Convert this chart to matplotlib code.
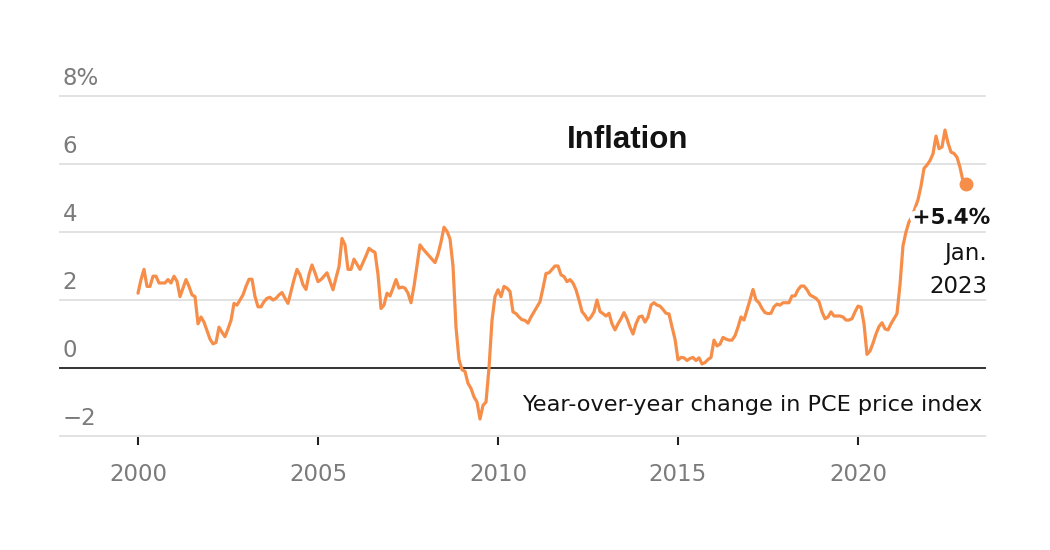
import matplotlib
matplotlib.use("Agg")
import matplotlib.pyplot as plt
import matplotlib.patheffects as pe
import numpy as np

# Monthly year-over-year change in PCE price index, Jan 2000 - Jan 2023
start_year = 2000
y2000 = [2.2, 2.6, 2.9, 2.4, 2.4, 2.7, 2.7, 2.5, 2.5, 2.5, 2.6, 2.5]
y2001 = [2.7, 2.55, 2.1, 2.35, 2.6, 2.4, 2.15, 2.1, 1.3, 1.5, 1.35, 1.1]
y2002 = [0.85, 0.71, 0.75, 1.2, 1.05, 0.92, 1.15, 1.4, 1.9, 1.85, 2.0, 2.15]
y2003 = [2.4, 2.61, 2.61, 2.1, 1.8, 1.8, 1.95, 2.05, 2.08, 2.0, 2.05, 2.15]
y2004 = [2.22, 2.05, 1.9, 2.25, 2.6, 2.9, 2.74, 2.45, 2.31, 2.75, 3.03, 2.8]
y2005 = [2.54, 2.6, 2.7, 2.8, 2.55, 2.3, 2.65, 2.98, 3.81, 3.62, 2.9, 2.9]
y2006 = [3.2, 3.05, 2.9, 3.1, 3.3, 3.52, 3.45, 3.4, 2.75, 1.75, 1.85, 2.2]
y2007 = [2.12, 2.35, 2.6, 2.35, 2.38, 2.35, 2.2, 1.92, 2.4, 3.0, 3.62, 3.5]
y2008 = [3.4, 3.3, 3.2, 3.1, 3.35, 3.7, 4.14, 4.02, 3.8, 3.0, 1.2, 0.25]
y2009 = [-0.05, -0.1, -0.45, -0.6, -0.85, -1.0, -1.5, -1.1, -1.0, 0.0, 1.4, 2.1]
y2010 = [2.3, 2.1, 2.4, 2.35, 2.25, 1.65, 1.6, 1.5, 1.42, 1.4, 1.32, 1.5]
y2011 = [1.65, 1.8, 1.95, 2.35, 2.78, 2.8, 2.9, 3.0, 3.0, 2.74, 2.69, 2.54]
y2012 = [2.6, 2.5, 2.3, 2.0, 1.66, 1.55, 1.41, 1.5, 1.65, 2.0, 1.66, 1.6]
y2013 = [1.53, 1.61, 1.3, 1.12, 1.3, 1.45, 1.63, 1.45, 1.2, 1.0, 1.3, 1.5]
y2014 = [1.53, 1.35, 1.5, 1.85, 1.92, 1.85, 1.82, 1.72, 1.61, 1.59, 1.21, 0.85]
y2015 = [0.24, 0.31, 0.3, 0.22, 0.28, 0.31, 0.22, 0.3, 0.12, 0.16, 0.25, 0.31]
y2016 = [0.82, 0.65, 0.7, 0.9, 0.85, 0.82, 0.82, 0.95, 1.2, 1.5, 1.41, 1.7]
y2017 = [2.0, 2.31, 2.0, 1.92, 1.75, 1.63, 1.6, 1.61, 1.8, 1.88, 1.85, 1.92]
y2018 = [1.92, 1.92, 2.12, 2.12, 2.3, 2.41, 2.41, 2.3, 2.15, 2.1, 2.05, 1.95]
y2019 = [1.65, 1.45, 1.5, 1.65, 1.53, 1.53, 1.53, 1.5, 1.41, 1.41, 1.45, 1.65]
y2020 = [1.82, 1.79, 1.3, 0.4, 0.5, 0.73, 1.0, 1.22, 1.33, 1.15, 1.12, 1.3]
y2021 = [1.45, 1.6, 2.45, 3.6, 4.0, 4.3, 4.45, 4.7, 4.95, 5.35, 5.87, 5.97]
y2022 = [6.1, 6.3, 6.82, 6.45, 6.5, 7.0, 6.62, 6.35, 6.31, 6.2, 5.9, 5.5]
y2023 = [5.4]

values = np.array(y2000 + y2001 + y2002 + y2003 + y2004 + y2005 + y2006 + y2007
                  + y2008 + y2009 + y2010 + y2011 + y2012 + y2013 + y2014 + y2015
                  + y2016 + y2017 + y2018 + y2019 + y2020 + y2021 + y2022 + y2023)
dates = start_year + np.arange(len(values)) / 12.0

x_ticks = [2000, 2005, 2010, 2015, 2020]
y_ticks = [-2, 0, 2, 4, 6, 8]
y_tick_labels = ["\u22122", "0", "2", "4", "6", "8%"]

title = "Inflation"
subtitle = "Year-over-year change in PCE price index"
end_label = "+5.4%"
end_month = "Jan."
end_year = "2023"

line_color = "#f68e4a"
grid_color = "#e2e2e2"
label_gray = "#7b7b7b"
text_dark = "#121212"
FONT = ["DejaVu Sans"]

fig = plt.figure(figsize=(10.5, 5.5), dpi=100)
ax = fig.add_axes([60 / 1050, 114 / 550, 925 / 1050, 340 / 550])
ax.set_xlim(2000 - 78 / 36, 2000 + 847 / 36)
ax.set_ylim(-2, 8)

for s in ax.spines.values():
    s.set_visible(False)
ax.set_xticks([])
ax.set_yticks([])

for yv in y_ticks:
    if yv == 0:
        ax.axhline(0, color="#333333", lw=1.4, zorder=3, clip_on=False)
    else:
        ax.axhline(yv, color=grid_color, lw=1.4, zorder=1, clip_on=False)

# y labels above grid lines
for yv, lab in zip(y_ticks, y_tick_labels):
    ax.annotate(lab, xy=(0, yv), xycoords=("axes fraction", "data"),
                xytext=(2, 4.5), textcoords="offset points",
                ha="left", va="bottom", fontsize=16.5, color=label_gray,
                family=FONT)

# x ticks and labels
for xv in x_ticks:
    ax.plot([xv, xv], [-2 - 0.03, -2 - 0.26], color="#222222", lw=1.5,
            clip_on=False, zorder=2, solid_capstyle="butt")
    ax.annotate(str(xv), xy=(xv, -2), xycoords="data",
                xytext=(0, -27.5), textcoords="offset points",
                ha="center", va="center", fontsize=16.5, color=label_gray,
                family=FONT)

ax.plot(dates, values, color=line_color, lw=2.3, zorder=4,
        solid_joinstyle="round", solid_capstyle="round")
ax.plot(dates[-1], values[-1], "o", color=line_color, ms=9, zorder=5)

ax.text(0.614, 0.872, title, transform=ax.transAxes, ha="center", va="center",
        fontsize=22.5, fontweight="bold", color=text_dark,
        family=["Liberation Sans", "DejaVu Sans"])

ax.text(2000 + 844 / 36, -1.1, subtitle, ha="right", va="center",
        fontsize=16.1, color=text_dark, family=FONT)

x_lab = 2000 + 852 / 36
t = ax.text(x_lab, 4.42, end_label, ha="right", va="center",
            fontsize=15.5, fontweight="bold", color=text_dark, zorder=6,
            family=FONT)
t.set_path_effects([pe.withStroke(linewidth=7, foreground="white")])
ax.text(x_lab - 0.08, 3.38, end_month, ha="right", va="center",
        fontsize=16.5, color=text_dark, zorder=6, family=FONT)
ax.text(x_lab - 0.08, 2.41, end_year, ha="right", va="center",
        fontsize=16.5, color=text_dark, zorder=6, family=FONT)

fig.savefig("out.png", dpi=100, facecolor="white")
